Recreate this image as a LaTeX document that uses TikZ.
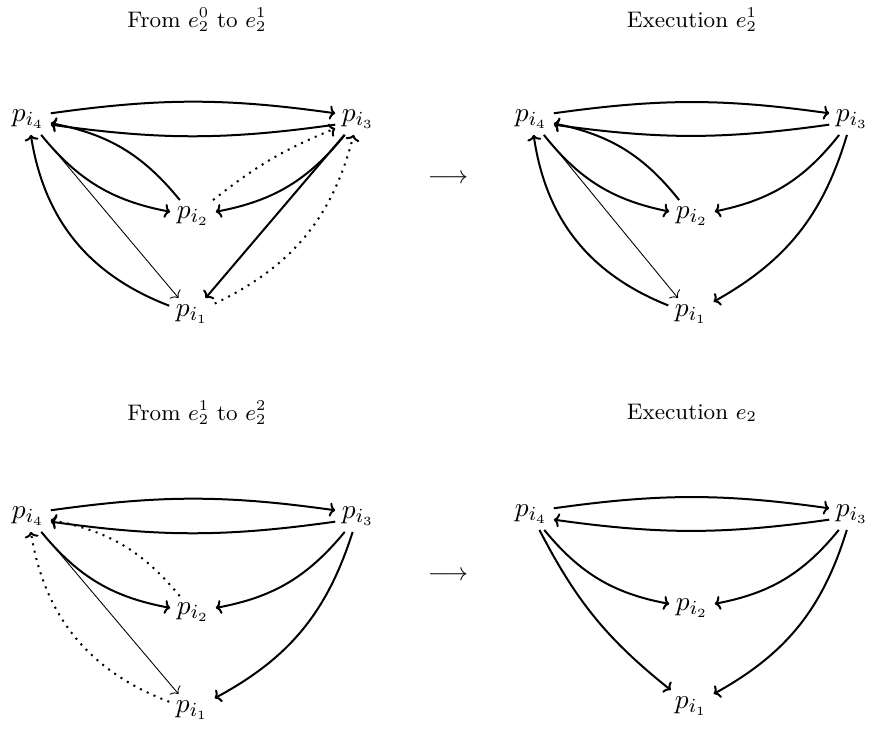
\documentclass[tikz,border=0pt]{standalone}
\usepackage{tikz}
\usetikzlibrary{arrows.meta}

\begin{document}
\begin{tikzpicture}[
  x=0.4pt, y=0.4pt,
  >={To[length=2.3pt, width=5.6pt]},
  proc/.style={inner sep=2.5pt, font=\fontsize{11}{13}\selectfont},
  title/.style={font=\small},
  edge/.style={->, line width=0.8pt},
  faint/.style={->, line width=0.35pt},
  dotedge/.style={->, line width=0.8pt, dash pattern=on 0.8pt off 2.2pt}
]
  \useasboundingbox (0,0) rectangle (869,730);

  % From e_2^0 to e_2^1
  \node[title] (tA) at (197,710) {From $e_2^0$ to $e_2^1$};
  \node[proc] (A4) at (28,611) {$p_{i_4}$};
  \node[proc] (A3) at (358,611) {$p_{i_3}$};
  \node[proc] (A2) at (193,514) {$p_{i_2}$};
  \node[proc] (A1) at (192,416) {$p_{i_1}$};
  \draw[edge] (A4.14) to[bend left=8] (A3.166);
  \draw[edge] (A3.-166) to[bend left=8] (A4.-14);
  \draw[edge] (A4) to[bend right=20] (A2);
  \draw[edge] (A2) to[bend right=20] (A4);
  \draw[edge] (A3) to[bend left=20] (A2);
  \draw[dotedge] (A2) to[bend left=8] (A3);
  \draw[edge] (A1) to[bend left=30] (A4);
  \draw[faint] (A4) -- (A1);
  \draw[edge] (A3) -- (A1);
  \draw[dotedge] (A1) to[bend right=25] (A3);

  \node (goA) at (448,551) {$\longrightarrow$};

  % Execution e_2^1
  \node[title] (tB) at (692,710) {Execution $e_2^1$};
  \node[proc] (B4) at (531,611) {$p_{i_4}$};
  \node[proc] (B3) at (852,611) {$p_{i_3}$};
  \node[proc] (B2) at (692,514) {$p_{i_2}$};
  \node[proc] (B1) at (691,416) {$p_{i_1}$};
  \draw[edge] (B4.14) to[bend left=8] (B3.166);
  \draw[edge] (B3.-166) to[bend left=8] (B4.-14);
  \draw[edge] (B4) to[bend right=20] (B2);
  \draw[edge] (B2) to[bend right=20] (B4);
  \draw[edge] (B3) to[bend left=20] (B2);
  \draw[edge] (B1) to[bend left=30] (B4);
  \draw[faint] (B4) -- (B1);
  \draw[edge] (B3) to[bend left=22] (B1);

  % From e_2^1 to e_2^2
  \node[title] (tC) at (197,317) {From $e_2^1$ to $e_2^2$};
  \node[proc] (C4) at (28,214) {$p_{i_4}$};
  \node[proc] (C3) at (358,214) {$p_{i_3}$};
  \node[proc] (C2) at (193,118) {$p_{i_2}$};
  \node[proc] (C1) at (192,20) {$p_{i_1}$};
  \draw[edge] (C4.14) to[bend left=8] (C3.166);
  \draw[edge] (C3.-166) to[bend left=8] (C4.-14);
  \draw[edge] (C4) to[bend right=20] (C2);
  \draw[dotedge] (C2) to[bend right=20] (C4);
  \draw[edge] (C3) to[bend left=20] (C2);
  \draw[dotedge] (C1) to[bend left=30] (C4);
  \draw[faint] (C4) -- (C1);
  \draw[edge] (C3) to[bend left=22] (C1);

  \node (goC) at (448,154) {$\longrightarrow$};

  % Execution e_2
  \node[title] (tD) at (692,317) {Execution $e_2$};
  \node[proc] (D4) at (531,216) {$p_{i_4}$};
  \node[proc] (D3) at (852,216) {$p_{i_3}$};
  \node[proc] (D2) at (692,122) {$p_{i_2}$};
  \node[proc] (D1) at (691,24) {$p_{i_1}$};
  \draw[edge] (D4.14) to[bend left=8] (D3.166);
  \draw[edge] (D3.-166) to[bend left=8] (D4.-14);
  \draw[edge] (D4) to[bend right=20] (D2);
  \draw[edge] (D3) to[bend left=20] (D2);
  \draw[edge] (D4) to[bend right=12] (D1);
  \draw[edge] (D3) to[bend left=22] (D1);
\end{tikzpicture}
\end{document}
